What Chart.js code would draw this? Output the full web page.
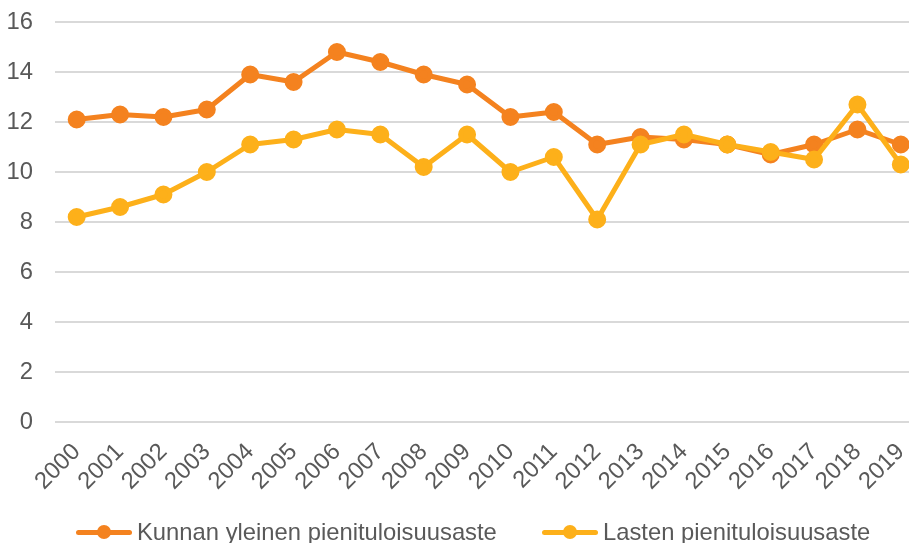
<!DOCTYPE html>
<html>
<head>
<meta charset="utf-8">
<script src="https://cdn.jsdelivr.net/npm/chart.js@4.4.1/dist/chart.umd.min.js"></script>
<style>
  html, body { margin: 0; padding: 0; background: #fff; overflow: hidden; width: 909px; height: 543px; }
  #wrap { position: absolute; left: 0; top: 0; width: 934px; height: 543px; }
  #legend { position: absolute; top: 517px; left: 0; width: 909px; height: 30px; font-family: "Liberation Sans", Arial, sans-serif; font-size: 23.8px; color: #595959; }
  .item { position: absolute; top: 0; height: 30px; display: flex; align-items: center; white-space: nowrap; }
  .mk { position: relative; width: 56px; height: 30px; margin-right: 5px; }
  .mk .ln { position: absolute; left: 0; top: 12.5px; width: 56px; height: 5px; border-radius: 2.5px; }
  .mk .dt { position: absolute; left: 21px; top: 8px; width: 14px; height: 14px; border-radius: 50%; }
</style>
</head>
<body>
<div id="wrap"><canvas id="c" width="934" height="543"></canvas></div>
<div id="legend"></div>
<script>
const years = ["2000","2001","2002","2003","2004","2005","2006","2007","2008","2009","2010","2011","2012","2013","2014","2015","2016","2017","2018","2019"];
const seriesNames = ["Kunnan yleinen pienituloisuusaste", "Lasten pienituloisuusaste"];
const kunnanYleinen = [12.1, 12.3, 12.2, 12.5, 13.9, 13.6, 14.8, 14.4, 13.9, 13.5, 12.2, 12.4, 11.1, 11.4, 11.3, 11.1, 10.7, 11.1, 11.7, 11.1];
const lasten = [8.2, 8.6, 9.1, 10.0, 11.1, 11.3, 11.7, 11.5, 10.2, 11.5, 10.0, 10.6, 8.1, 11.1, 11.5, 11.1, 10.8, 10.5, 12.7, 10.3];
const yTicks = [0, 2, 4, 6, 8, 10, 12, 14, 16];
const colors = ["#F4821F", "#FDB01A"];
const legendLeft = [76, 542];

const FONT = { family: '"Liberation Sans", Arial, sans-serif', size: 23.8 };
const TEXT = "#595959";

function ds(i, data, order) {
  return {
    label: seriesNames[i], data: data, order: order,
    borderColor: colors[i], backgroundColor: colors[i],
    pointBackgroundColor: colors[i], pointBorderColor: colors[i],
    borderWidth: 5, pointRadius: 6.5, pointHoverRadius: 6.5,
    tension: 0, fill: false, borderJoinStyle: 'round', borderCapStyle: 'round'
  };
}

function zeroPad(s) { s.paddingTop = 0; s.paddingBottom = 0; s.paddingLeft = 0; s.paddingRight = 0; }

new Chart(document.getElementById('c'), {
  type: 'line',
  data: { labels: years, datasets: [ds(0, kunnanYleinen, 1), ds(1, lasten, 0)] },
  options: {
    responsive: false, animation: false,
    layout: { padding: { top: 22, right: 4, bottom: 0, left: 0 } },
    plugins: { legend: { display: false }, tooltip: { enabled: false } },
    scales: {
      x: {
        offset: true,
        grid: { display: false, drawTicks: false },
        border: { display: false },
        ticks: { color: TEXT, font: FONT, minRotation: 45, maxRotation: 45, padding: 16, autoSkip: false },
        afterFit: (s) => { s.height = 121; zeroPad(s); }
      },
      y: {
        min: 0, max: 16,
        afterBuildTicks: (s) => { s.ticks = yTicks.map(v => ({ value: v })); },
        grid: { color: '#d9d9d9', lineWidth: 2, drawTicks: false },
        border: { display: false },
        ticks: { color: TEXT, font: FONT, padding: 22 },
        afterFit: (s) => { s.width = 55; zeroPad(s); }
      }
    }
  }
});

const lg = document.getElementById('legend');
seriesNames.forEach((name, i) => {
  const it = document.createElement('div');
  it.className = 'item';
  it.style.left = legendLeft[i] + 'px';
  it.innerHTML = '<div class="mk"><div class="ln" style="background:' + colors[i] + '"></div><div class="dt" style="background:' + colors[i] + '"></div></div><span></span>';
  it.querySelector('span').textContent = name;
  lg.appendChild(it);
});
</script>
</body>
</html>
